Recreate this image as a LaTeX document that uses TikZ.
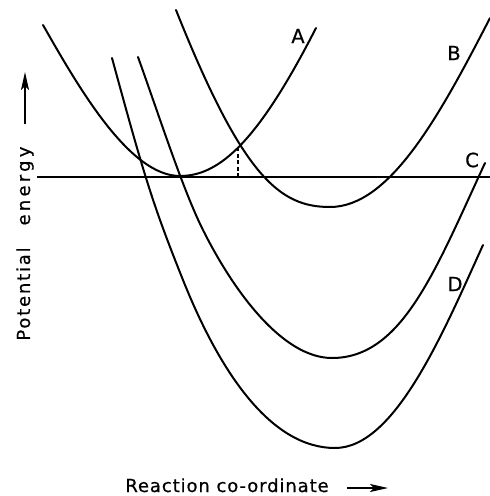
\documentclass[tikz,border=0pt]{standalone}
\usepackage{fontspec}
\setmainfont{DejaVu Sans}[FakeBold=0.6]
\usetikzlibrary{arrows.meta}
\begin{document}
\begin{tikzpicture}[x=1pt,y=-1pt,
  curve/.style={line width=2pt, line join=round, line cap=round},
  levelline/.style={line width=1.4pt},
  dropline/.style={line width=1.3pt, dash pattern=on 4pt off 2.5pt},
  axisarrow/.style={line width=1.5pt, -{Stealth[length=18pt,width=8pt,inset=4pt]}},
  lbl/.style={font=\fontsize{19.5}{21}\selectfont, inner sep=0pt},
  axislbl/.style={inner sep=0pt, anchor=base}]
\useasboundingbox (0,0) rectangle (490,496);

% level line and drop line
\coordinate (h1) at (37,177);
\coordinate (h2) at (490,177);
\draw[levelline] (h1) -- (h2);
\coordinate (x1) at (238,147);
\coordinate (x2) at (238,177);
\draw[dropline] (x1) -- (x2);

% curve A
\draw[curve] (43,25) .. controls (80,90) and (130,176) .. (180,176)
                     .. controls (220,176) and (258.5,140.5) .. (316,28);
% curve B
\draw[curve] (176,10) .. controls (243,178) and (280,207) .. (330,207)
                      .. controls (390,207) and (440,115) .. (490,18);
% curve C
\draw[curve] (138,57) .. controls (160.8,120.6) and (183,190) .. (203,230)
                      .. controls (233,290) and (282,358) .. (332,358)
                      .. controls (402,358) and (435,271) .. (485,163);
% curve D
\draw[curve] (112,58) .. controls (145,179) and (153,205) .. (183,280)
                      .. controls (221,375) and (272,448) .. (335,448)
                      .. controls (395,448) and (443,333) .. (483,245);

% curve labels
\node[lbl] (lA) at (298,36) {A};
\node[lbl] (lB) at (454,53) {B};
\node[lbl] (lC) at (472,160) {C};
\node[lbl] (lD) at (455,284) {D};

% axis labels
\node[axislbl, rotate=90, font=\fontsize{18}{20}\selectfont\addfontfeature{LetterSpace=10}] (ylab1) at (30,294) {Potential};
\node[axislbl, rotate=90, font=\fontsize{18}{20}\selectfont\addfontfeature{LetterSpace=18}] (ylab2) at (30,186) {energy};
\node[axislbl, font=\fontsize{18}{20}\selectfont\addfontfeature{LetterSpace=5}] (xlab) at (227,492) {Reaction co-ordinate};

% axis arrows
\coordinate (ya1) at (25,124);
\coordinate (ya2) at (25,72);
\draw[axisarrow] (ya1) -- (ya2);
\coordinate (xa1) at (347,488);
\coordinate (xa2) at (388,488);
\draw[axisarrow] (xa1) -- (xa2);
\end{tikzpicture}
\end{document}
